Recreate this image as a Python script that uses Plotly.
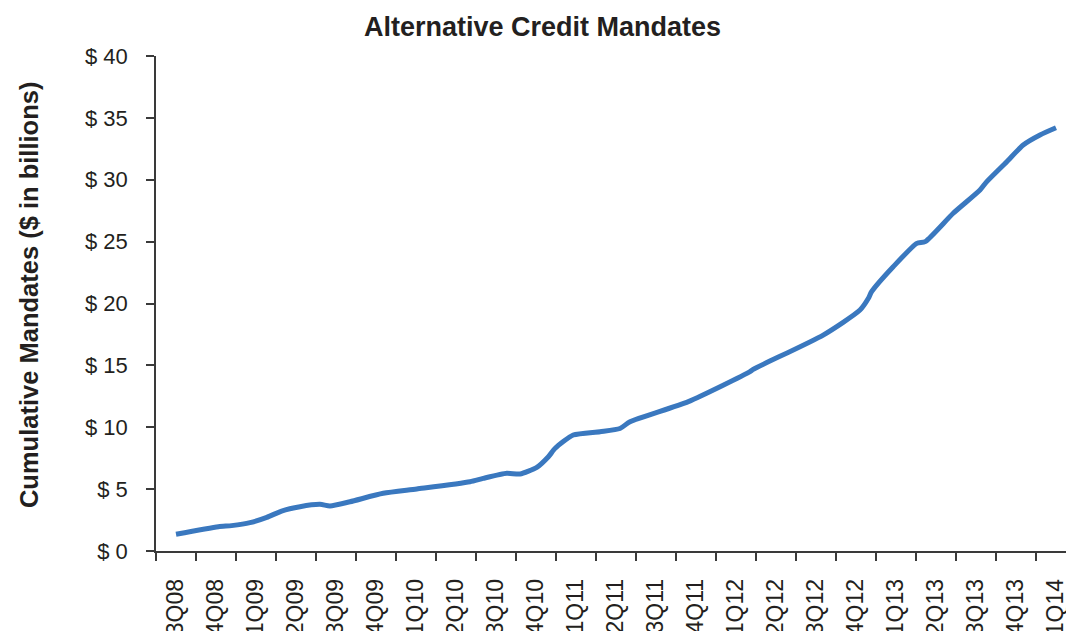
import plotly.graph_objects as go

# Quarter labels for the category axis
quarters = ["3Q08", "4Q08", "1Q09", "2Q09", "3Q09", "4Q09", "1Q10", "2Q10", "3Q10",
            "4Q10", "1Q11", "2Q11", "3Q11", "4Q11", "1Q12", "2Q12", "3Q12", "4Q12",
            "1Q13", "2Q13", "3Q13", "4Q13", "1Q14"]

# Time position measured in quarters since 3Q08 (0 = 3Q08) and cumulative mandates ($bn)
period = [0.0, 1.06, 1.39, 1.85, 2.27, 2.64, 3.1, 3.6, 3.85, 4.35, 5.18, 6.02,
          7.35, 7.68, 8.27, 8.6, 9.02, 9.31, 9.48, 9.93, 10.6, 11.1, 11.35, 12.81,
          14.35, 14.43, 16.18, 17.1, 17.31, 17.39, 17.93, 18.52, 18.73, 19.43,
          20.1, 20.27, 20.77, 21.18, 21.6, 22.0]
mandates = [1.35, 1.96, 2.05, 2.29, 2.72, 3.23, 3.58, 3.77, 3.64, 3.98, 4.66, 5.01,
            5.6, 5.87, 6.28, 6.22, 6.76, 7.62, 8.3, 9.37, 9.64, 9.9, 10.45, 12.07,
            14.49, 14.68, 17.45, 19.47, 20.42, 20.95, 22.97, 24.86, 25.0, 27.29,
            29.17, 29.85, 31.46, 32.81, 33.62, 34.2]

y_ticks = [0, 5, 10, 15, 20, 25, 30, 35, 40]
y_tick_text = ["$ %d" % v for v in y_ticks]

text_color = "#231f20"
axis_color = "#3a3a3a"
font_family = "Liberation Sans, Arial, sans-serif"

fig = go.Figure()
fig.add_trace(go.Scatter(
    x=period, y=mandates, mode="lines",
    line=dict(color="#3a78bf", width=5, shape="spline", smoothing=0.6),
    showlegend=False, hoverinfo="skip",
))

fig.update_layout(
    width=1066, height=631,
    margin=dict(l=156, r=0, t=56, b=80),
    paper_bgcolor="white", plot_bgcolor="white",
    font=dict(family=font_family, color=text_color),
    title=dict(text="<b>Alternative Credit Mandates</b>",
               font=dict(size=27, family=font_family, color=text_color),
               x=0.509, xref="container", xanchor="center",
               y=0.958, yref="container", yanchor="middle"),
    showlegend=False,
)

fig.update_xaxes(
    range=[-0.5, 22.25],
    tickmode="array",
    tickvals=list(range(len(quarters))),
    ticktext=quarters,
    tickangle=-90,
    ticks="",
    ticklabelstandoff=17,
    ticklabeloverflow="allow",
    tickfont=dict(size=23, family=font_family, color=text_color),
    showgrid=False, zeroline=False,
    showline=True, linecolor=axis_color, linewidth=1.5,
    minor=dict(tickmode="linear", tick0=-0.5, dtick=1, ticks="outside",
               ticklen=8, tickcolor=axis_color, tickwidth=1.5, showgrid=False),
    automargin=False,
)

fig.update_yaxes(
    range=[0, 40],
    tickmode="array",
    tickvals=y_ticks,
    ticktext=y_tick_text,
    ticks="outside", ticklen=8, tickcolor=axis_color, tickwidth=1.5,
    ticklabelstandoff=14,
    ticklabeloverflow="allow",
    tickfont=dict(size=22, family=font_family, color=text_color),
    showgrid=False, zeroline=False,
    showline=True, linecolor=axis_color, linewidth=1.5,
    automargin=False,
)

fig.add_annotation(
    text="<b>Cumulative Mandates ($ in billions)</b>",
    xref="paper", yref="paper",
    x=-0.1396, y=0.517,
    xanchor="center", yanchor="middle",
    textangle=-90, showarrow=False,
    font=dict(size=25.5, family=font_family, color=text_color),
)

fig.write_html("out.html")
